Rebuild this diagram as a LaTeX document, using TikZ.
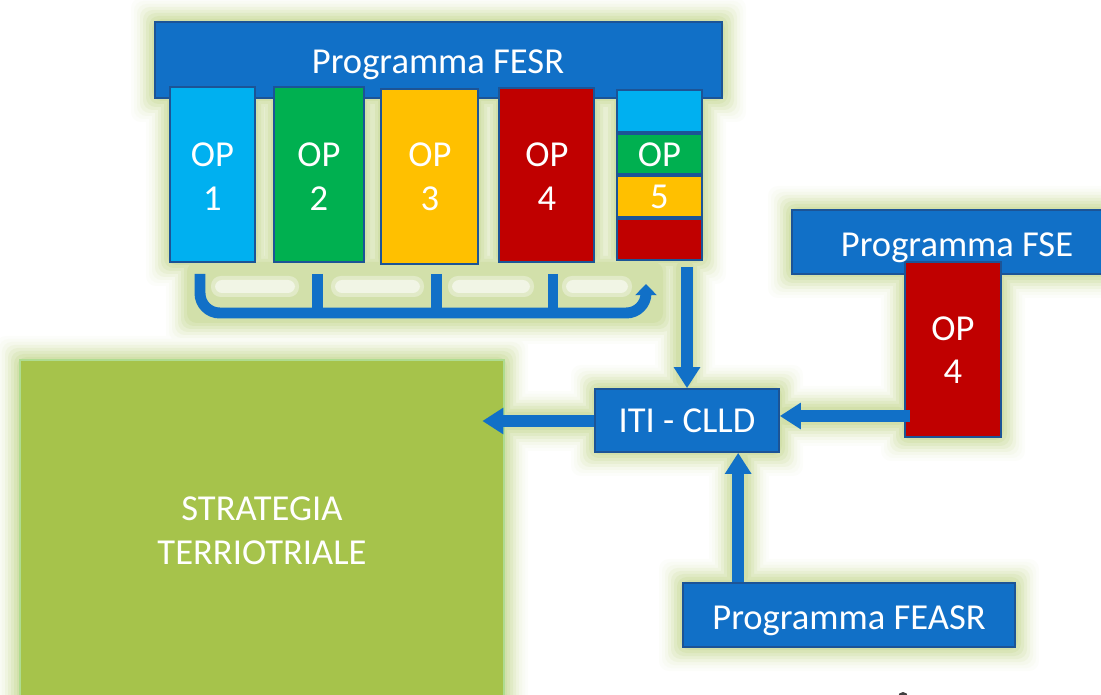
\documentclass[tikz,border=0pt]{standalone}
\usepackage{fontspec}
\setmainfont{Carlito}
\usetikzlibrary{arrows.meta,fit,calc}

\definecolor{mblue}{RGB}{17,112,199}
\definecolor{mborder}{RGB}{28,84,150}
\definecolor{opcyan}{RGB}{0,176,240}
\definecolor{opgreen}{RGB}{0,176,80}
\definecolor{opyellow}{RGB}{255,192,0}
\definecolor{opred}{RGB}{192,0,0}
\definecolor{stratgreen}{RGB}{166,195,75}
\definecolor{stratborder}{RGB}{175,220,145}
\definecolor{glowbase}{RGB}{204,220,158}

\newcommand\labelfont{\fontsize{26}{31}\selectfont}

\tikzset{
  shape box/.style={inner sep=0pt},
  bluebox/.style={shape box, fill=mblue, draw=mborder, line width=1.2pt},
  opbox/.style={shape box, draw=mborder, line width=1.4pt},
  stratbox/.style={shape box, fill=stratgreen, draw=stratborder, line width=1.2pt},
  txt/.style={inner sep=0pt, text=white, font=\labelfont, align=center},
  txtline/.style={txt, anchor=base},
  conn/.style={draw=mblue, line width=9pt, -{Triangle[length=15pt,width=18pt]}},
  bracket/.style={draw=mblue, line width=7.8pt, rounded corners=14pt},
}

\begin{document}
\begin{tikzpicture}[x=0.025cm, y=-0.025cm]
  \useasboundingbox (0,0) rectangle (1101,695);
  \clip (0,0) rectangle (1101,695);

  % soft halo behind every shape, drawn from the outside in
  \foreach \d/\p in {24/5,21/11,18/20,15/32,12/45,9/60,6/74,3/88}{
    \foreach \xa/\ya/\xb/\yb in {
        155/22/722/98, 170/87/255/262, 274/87/364/262, 381/89/478/264,
        499/88/594/262, 617/90/702/260, 190/265/660/320,
        679/262/691/385, 792/210/1120/274, 905/262/1001/437,
        779/410/905/422, 595/389/779/452, 481/415/595/427,
        733/452/745/583, 683/583/1015/647, 20/360/504/710}{
      \fill[glowbase!\p!white, rounded corners=7pt]
        (\xa-\d,\ya-\d) rectangle (\xb+\d,\yb+\d);
    }
  }
  % pale smudges between the bracket stubs
  \foreach \xa/\xb in {215/295, 335/420, 452/530, 566/628}{
    \fill[white, opacity=0.35, rounded corners=7pt] (\xa-4,276) rectangle (\xb+4,297);
    \fill[white, opacity=0.55, rounded corners=5pt] (\xa,280) rectangle (\xb,293);
  }

  % Programma FESR with its five OP columns
  \node[bluebox, fit={(155,22) (722,98)}] (fesr) {};
  \node[opbox, fill=opcyan,   fit={(170,87) (255,262)}] (op1) {};
  \node[opbox, fill=opgreen,  fit={(274,87) (364,262)}] (op2) {};
  \node[opbox, fill=opyellow, fit={(381,89) (478,264)}] (op3) {};
  \node[opbox, fill=opred,    fit={(499,88) (594,262)}] (op4) {};
  \node[opbox, fill=opcyan,   fit={(617,90) (702,132)}] (op5a) {};
  \node[opbox, fill=opgreen,  fit={(617,134) (702,174)}] (op5b) {};
  \node[opbox, fill=opyellow, fit={(617,176) (702,217)}] (op5c) {};
  \node[opbox, fill=opred,    fit={(617,219) (702,260)}] (op5d) {};
  \node[txtline] (tfesr) at (438,74) {Programma FESR};
  \node[txt] (t1) at (212.5,176.5) {OP\\1};
  \node[txt] (t2) at (319,176.5) {OP\\2};
  \node[txt] (t3) at (430,177) {OP\\3};
  \node[txt] (t4) at (547,176.5) {OP\\4};
  \node[txtline] (t5a) at (659.5,167) {OP};
  \node[txtline] (t5b) at (659.5,209) {5};

  % Programma FSE with its OP 4
  \node[bluebox, fit={(792,210) (1120,274)}] (fse) {};
  \node[opbox, fill=opred, fit={(905,262) (1001,437)}] (fop4) {};
  \node[txtline] (tfse) at (957,257) {Programma FSE};
  \node[txt] (tfop4) at (953,350) {OP\\4};

  % central node, FEASR programme and territorial strategy
  \node[bluebox, fit={(595,389) (779,452)}] (iti) {};
  \node[bluebox, fit={(683,583) (1015,647)}] (feasr) {};
  \node[stratbox, fit={(20,360) (504,702)}] (strat) {};
  \node[txtline] (titi) at (687,433) {ITI - CLLD};
  \node[txtline] (tfeasr) at (849,629) {Programma FEASR};
  \node[txt] (tstrat) at (262,531) {STRATEGIA\\TERRIOTRIALE};

  % bracket joining the FESR columns
  \coordinate (s1) at (200,274);
  \coordinate (s2) at (317.5,274);
  \coordinate (s3) at (436.5,274);
  \coordinate (s4) at (553,274);
  \coordinate (s5) at (646,284);
  \draw[bracket] (s2) -- (s2 |- 0,313);
  \draw[bracket] (s3) -- (s3 |- 0,313);
  \draw[bracket] (s4) -- (s4 |- 0,313);
  \draw[bracket, -{Triangle[length=8pt,width=15pt]}]
    (s1) -- (s1 |- 0,313) -- (s5 |- 0,313) -- (s5);

  % connectors into and out of ITI - CLLD
  \draw[conn, shorten <=4.5pt] (iti.north |- op5d.south) -- (iti.north);
  \draw[conn, shorten <=-4pt] (fop4.west |- 0,416) -- (iti.east |- 0,416);
  \coordinate (fa) at ($(feasr.north west)+(56,0)$);
  \draw[conn] (fa) -- (fa |- iti.south);
  \draw[conn, shorten >=-16pt] (iti.west |- 0,421) -- (strat.east |- 0,421);

  % pointer at the lower edge
  \fill[black!75] (903,697) circle[radius=5];
\end{tikzpicture}
\end{document}
